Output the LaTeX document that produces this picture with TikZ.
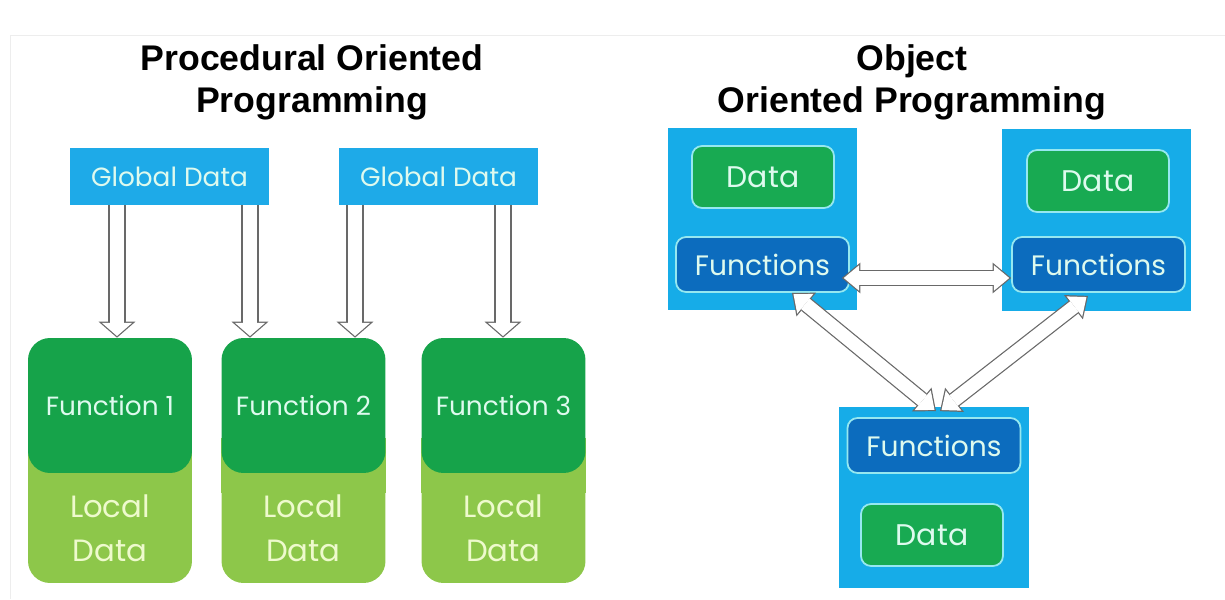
\documentclass[tikz,border=0pt]{standalone}
\usepackage{fontspec}
\setmainfont{Liberation Sans}
\newfontfamily\boxfont{Poppins}
\usetikzlibrary{arrows.meta}

\definecolor{globalblue}{RGB}{30,170,232}
\definecolor{objblue}{RGB}{22,172,232}
\definecolor{funcgreen}{RGB}{22,163,74}
\definecolor{localgreen}{RGB}{141,199,74}
\definecolor{datagreen}{RGB}{24,170,82}
\definecolor{funsblue}{RGB}{12,108,190}
\definecolor{rimcyan}{RGB}{150,232,240}
\definecolor{paletext}{RGB}{222,250,238}
\definecolor{localtext}{RGB}{238,250,205}
\definecolor{arrowgray}{RGB}{105,105,105}

\begin{document}
\begin{tikzpicture}[x=0.02cm,y=-0.02cm,
  heading/.style={font=\fontsize{20.3}{24}\selectfont\bfseries, align=center},
  globalbox/.style={fill=globalblue, minimum width=3.98cm, minimum height=1.14cm,
    text=paletext, font=\boxfont\fontsize{15}{18}\selectfont},
  funcbox/.style={fill=funcgreen, rounded corners=0.44cm, minimum width=3.28cm,
    minimum height=2.7cm, text=paletext, font=\boxfont\fontsize{15}{18}\selectfont},
  localbox/.style={fill=localgreen, rounded corners=0.44cm, minimum width=3.28cm,
    minimum height=2.2cm, align=center, text=localtext, font=\boxfont\fontsize{17.5}{25}\selectfont},
  objbox/.style={fill=objblue, minimum width=3.8cm, minimum height=3.64cm},
  databox/.style={fill=datagreen, draw=rimcyan, line width=1pt, rounded corners=0.2cm,
    minimum width=2.84cm, minimum height=1.24cm, text=paletext, font=\boxfont\fontsize{17}{20}\selectfont},
  funsbox/.style={fill=funsblue, draw=rimcyan, line width=1pt, rounded corners=0.2cm,
    minimum width=3.46cm, minimum height=1.1cm, text=paletext, font=\boxfont\fontsize{16}{20}\selectfont},
  hollow/.style={draw=arrowgray, line width=9.7pt,
    -{Triangle[length=9.1pt,width=21pt,line width=0pt]},
    postaction={draw=white, line width=8.3pt, shorten >=0.93pt,
      -{Triangle[length=7.47pt,width=17.2pt,line width=0pt]}}},
  hollowboth/.style={draw=arrowgray, line width=9pt,
    {Triangle[length=10.5pt,width=17.5pt,line width=0pt]}-{Triangle[length=10.5pt,width=17.5pt,line width=0pt]},
    postaction={draw=white, line width=7.6pt, shorten >=1.09pt, shorten <=1.09pt,
      {Triangle[length=8.71pt,width=14.5pt,line width=0pt]}-{Triangle[length=8.71pt,width=14.5pt,line width=0pt]}}},
]
\useasboundingbox (0,0) rectangle (1225,599);
\draw[black!7] (10,599) -- (10,35) -- (1225,35);

% the two headings
\node[heading] (procTitle) at (312,82) {Procedural Oriented\\Programming};
\node[heading] (objTitle) at (912,82) {Object\\Oriented Programming};

% procedural side: global data, functions with local data
\node[globalbox] (glob1) at (169.5,176.5) {Global Data};
\node[globalbox] (glob2) at (438.5,176.5) {Global Data};

\foreach \i/\x in {1/110,2/303.5,3/503.5} {
  \node[localbox] (loc\i) at (\x,528) {Local\\Data};
  \fill[localgreen] ([yshift=-0.4cm]loc\i.north west) rectangle ([yshift=0.7cm]loc\i.north east);
  \node[funcbox] (fun\i) at (\x,405.5) {Function \i};
}

\draw[hollow] ([xshift=-1.05cm]glob1.south) coordinate (g1) -- (g1 |- fun1.north);
\draw[hollow] ([xshift=1.61cm]glob1.south) coordinate (g2) -- (g2 |- fun2.north);
\draw[hollow] ([xshift=-1.67cm]glob2.south) coordinate (g3) -- (g3 |- fun2.north);
\draw[hollow] ([xshift=1.29cm]glob2.south) coordinate (g4) -- (g4 |- fun3.north);

% object side: three objects
\node[objbox] (objA) at (762.5,219) {};
\node[databox] (datA) at (763,177) {Data};
\node[funsbox] (funA) at (762.5,264.5) {Functions};

\node[objbox] (objB) at (1096.5,220) {};
\node[databox] (datB) at (1098,181) {Data};
\node[funsbox] (funB) at (1098.5,264.5) {Functions};

\node[objbox] (objC) at (934,497.5) {};
\node[funsbox] (funC) at (934,445.5) {Functions};
\node[databox] (datC) at (932,535) {Data};

% links between the objects
\draw[hollowboth] ([xshift=-0.16cm,yshift=-0.27cm]funA.east) -- ([yshift=-0.27cm]funB.west);
\draw[hollowboth] ([xshift=0.59cm]funA.south) -- ([xshift=0.04cm,yshift=-0.1cm]objC.north);
\draw[hollowboth] ([xshift=-0.21cm,yshift=-0.06cm]funB.south) -- ([xshift=0.12cm,yshift=-0.1cm]objC.north);
\end{tikzpicture}
\end{document}
